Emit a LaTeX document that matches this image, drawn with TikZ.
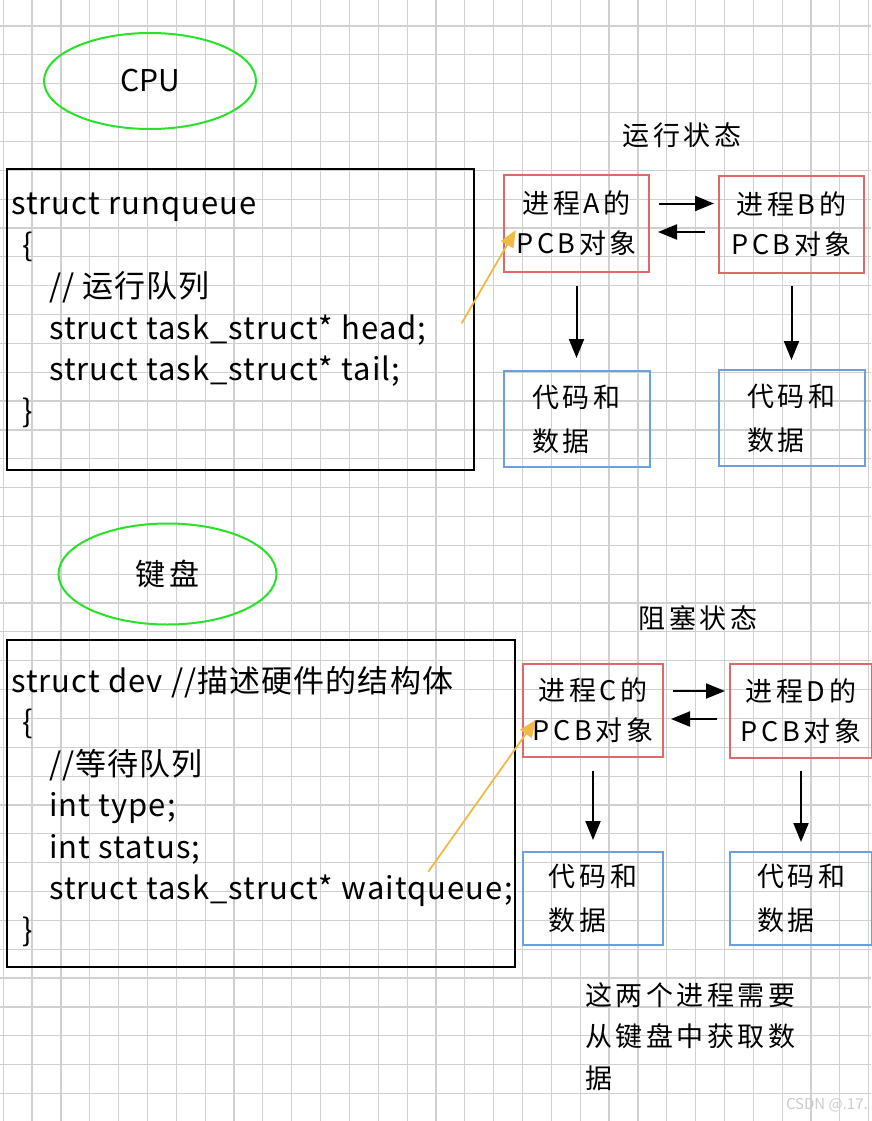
\documentclass[tikz,border=0pt]{standalone}
\usepackage{fontspec}
\setmainfont{Noto Sans CJK SC}
\newfontfamily\widecjk[LetterSpace=13]{Noto Sans CJK SC}
\newfontfamily\codefont[LetterSpace=3.5]{Noto Sans CJK SC}
\usepackage{xcolor}
\usetikzlibrary{arrows.meta,positioning,shapes.geometric}

\definecolor{gridgray}{RGB}{208,208,208}
\definecolor{ovalgreen}{RGB}{40,225,40}
\definecolor{pcbred}{RGB}{224,104,104}
\definecolor{codeblue}{RGB}{108,160,220}
\definecolor{linkyellow}{RGB}{242,186,68}

\begin{document}
\begin{tikzpicture}[x=1pt, y=-1pt,
    oval/.style={draw=ovalgreen, line width=2pt, ellipse, font=\fontsize{30}{36}\selectfont},
    structbox/.style={draw, line width=2pt},
    code/.style={align=left, inner sep=0pt, anchor=north west, font=\codefont\fontsize{31}{41.5}\selectfont},
    pcb/.style={draw=pcbred, line width=2pt, minimum width=145pt, minimum height=97pt, align=center, inner sep=0pt, font=\widecjk\fontsize{27}{40}\selectfont},
    data/.style={draw=codeblue, line width=2pt, minimum width=146pt, minimum height=96pt, align=left, inner sep=0pt, font=\widecjk\fontsize{27}{44}\selectfont},
    lbl/.style={inner sep=0pt, font=\widecjk\fontsize{27}{41.5}\selectfont},
    arr/.style={-{Triangle[length=19pt,width=15pt]}, line width=2pt},
    link/.style={-{Triangle[length=17pt,width=14pt]}, line width=1.8pt, draw=linkyellow}
]
\useasboundingbox (0,0) rectangle (871,1121);
\fill[white] (0,0) rectangle (871,1121);

% grid paper
\foreach \i in {0,...,30}
    \draw[gridgray, line width=1.2pt] ({3.2+28.85*\i},0) -- ++(0,1121);
\foreach \j in {1,...,39}
    \draw[gridgray, line width=1.2pt] (0,{-2.85+28.85*\j}) -- ++(871,0);

% running part
\node[oval, minimum width=212pt, minimum height=96pt] (cpu) at (150,81) {CPU};
\node[structbox, minimum width=467pt, minimum height=301pt] (runq) at (240.5,319.5) {};
\node[code] (runqtxt) at ([xshift=5pt,yshift=-25pt]runq.north west)
    {struct runqueue\\
     \hspace*{11pt}\{\\
     \hspace*{38pt}// 运行队列\\
     \hspace*{38pt}struct task\_struct* head;\\
     \hspace*{38pt}struct task\_struct* tail;\\
     \hspace*{11pt}\}};
\coordinate (headptr) at (461.7,323.3);

\node[lbl] (runlbl) at (682,135) {运行状态};
\node[pcb] (pcbA) at (576.5,223.5) {进程A的\\PCB对象};
\node[pcb, right=68pt of pcbA, yshift=-1pt] (pcbB) {进程B的\\PCB对象};
\node[data, below=97pt of pcbA] (dataA) {代码和\\数据};
\node[data, below=95pt of pcbB] (dataB) {代码和\\数据};

\draw[arr] ([xshift=9pt,yshift=20pt]pcbA.east) -- ([xshift=-4pt,yshift=21pt]pcbB.west);
\draw[arr] ([xshift=-13pt,yshift=-7.5pt]pcbB.west) -- ([xshift=8pt,yshift=-8.5pt]pcbA.east);
\draw[arr] ([yshift=-13pt]pcbA.south) -- ([yshift=12pt]dataA.north);
\draw[arr] ([yshift=-12pt]pcbB.south) -- ([yshift=9pt]dataB.north);
\draw[link] (headptr) -- ([xshift=12.7pt,yshift=-6.5pt]pcbA.west);

% blocked part
\node[oval, minimum width=218pt, minimum height=101pt, font=\widecjk\fontsize{30}{36}\selectfont] (kbd) at (167.5,574) {键盘};
\node[structbox, minimum width=508pt, minimum height=327pt] (devq) at (261,803.5) {};
\node[code] (devqtxt) at ([xshift=5pt,yshift=-27pt]devq.north west)
    {struct dev //描述硬件的结构体\\
     \hspace*{11pt}\{\\
     \hspace*{38pt}//等待队列\\
     \hspace*{38pt}int type;\\
     \hspace*{38pt}int status;\\
     \hspace*{38pt}struct task\_struct* waitqueue;\\
     \hspace*{11pt}\}};
\coordinate (waitptr) at (428.3,871.7);

\node[lbl] (blocklbl) at (698,618) {阻塞状态};
\node[pcb, minimum width=140pt, minimum height=93pt] (pcbC) at (593,710.5) {进程C的\\PCB对象};
\node[pcb, minimum width=142pt, minimum height=94pt, right=65pt of pcbC, yshift=-0.5pt] (pcbD) {进程D的\\PCB对象};
\node[data, minimum width=140pt, minimum height=93pt, below=93pt of pcbC] (dataC) {代码和\\数据};
\node[data, minimum width=142pt, minimum height=93pt, below=92pt of pcbD] (dataD) {代码和\\数据};

\draw[arr] ([xshift=9pt,yshift=19.5pt]pcbC.east) -- ([xshift=-4pt,yshift=20pt]pcbD.west);
\draw[arr] ([xshift=-12pt,yshift=-8pt]pcbD.west) -- ([xshift=7pt,yshift=-8.5pt]pcbC.east);
\draw[arr] ([yshift=-13pt]pcbC.south) -- ([yshift=11pt]dataC.north);
\draw[arr] ([yshift=-12pt]pcbD.south) -- ([yshift=9pt]dataD.north);
\draw[link] (waitptr) -- ([xshift=13.7pt,yshift=-9.5pt]pcbC.west);

\node[lbl, align=left, anchor=west] (note) at (585,1036.5)
    {这两个进程需要\\从键盘中获取数\\据};
\node[anchor=east, inner sep=0pt, text=gray!40, font=\fontsize{15}{18}\selectfont] (mark) at (868,1105) {CSDN @.17.};
\end{tikzpicture}
\end{document}
